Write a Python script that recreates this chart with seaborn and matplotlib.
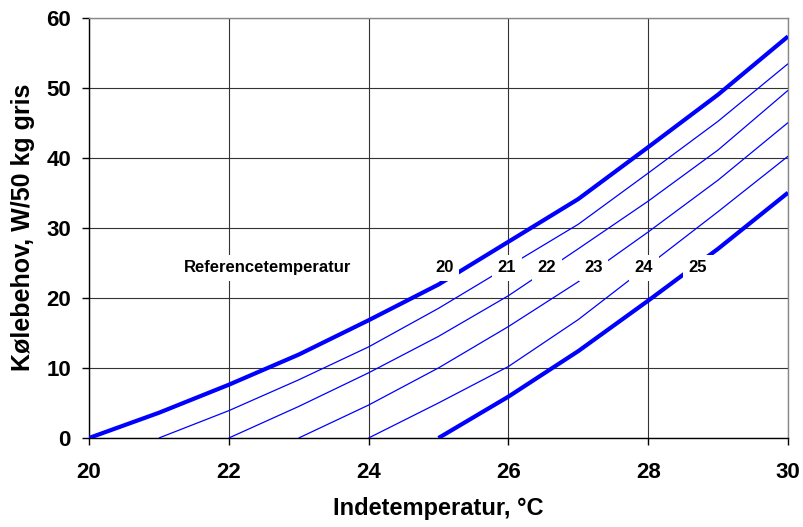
import matplotlib
matplotlib.use("Agg")
import matplotlib.pyplot as plt
import seaborn as sns
import pandas as pd

# ---- data ----
x20 = [20, 21, 22, 23, 24, 25, 26, 27, 28, 29, 30]
y20 = [0, 3.6, 7.6, 11.9, 16.8, 21.9, 28.0, 34.1, 41.5, 49.0, 57.3]
x21 = [21, 22, 23, 24, 25, 26, 27, 28, 29, 30]
y21 = [0, 3.9, 8.3, 13.0, 18.5, 24.5, 30.5, 37.8, 45.2, 53.4]
x22 = [22, 23, 24, 25, 26, 27, 28, 29, 30]
y22 = [0, 4.5, 9.3, 14.5, 20.3, 27.0, 33.8, 41.1, 49.6]
x23 = [23, 24, 25, 26, 27, 28, 29, 30]
y23 = [0, 4.7, 10.0, 15.9, 22.3, 29.4, 36.8, 45.0]
x24 = [24, 25, 26, 27, 28, 29, 30]
y24 = [0, 5.0, 10.2, 16.9, 24.6, 32.3, 40.2]
x25 = [25, 26, 27, 28, 29, 30]
y25 = [0, 5.9, 12.4, 19.6, 27.0, 35.0]

curve_names = ["20", "21", "22", "23", "24", "25"]
label_x = [25.09, 25.98, 26.55, 27.22, 27.94, 28.71]
label_y = 24.3
ref_text = "Referencetemperatur"
ref_x = 22.56

xticks = [20, 22, 24, 26, 28, 30]
yticks = [0, 10, 20, 30, 40, 50, 60]
xlabel = "Indetemperatur, °C"
ylabel = "Kølebehov, W/50 kg gris"

series = [(x20, y20), (x21, y21), (x22, y22), (x23, y23), (x24, y24), (x25, y25)]

sns.set_style("white")
plt.rcParams['font.family'] = ['Liberation Sans', 'DejaVu Sans']
plt.rcParams['text.color'] = 'black'
plt.rcParams['axes.labelcolor'] = 'black'
plt.rcParams['xtick.color'] = 'black'
plt.rcParams['ytick.color'] = 'black'

fig = plt.figure(figsize=(8.04, 5.27), dpi=100)
ax = fig.add_axes([89 / 804, 1 - 438 / 527, (788 - 89) / 804, (438 - 17.5) / 527])

for name, (xs, ys) in zip(curve_names, series):
    df = pd.DataFrame({"x": xs, "y": ys})
    thick = name in ("20", "25")
    sns.lineplot(data=df, x="x", y="y", ax=ax, color="#0000FF",
                 linewidth=3.0 if thick else 0.9, zorder=3,
                 solid_capstyle="butt")

for name, lx in zip(curve_names, label_x):
    ax.text(lx, label_y, name, ha="center", va="center", fontsize=12,
            fontweight="bold", color="black", zorder=5,
            bbox=dict(facecolor="white", edgecolor="none", pad=4))
ax.text(ref_x, label_y, ref_text, ha="center", va="center", fontsize=12,
        fontweight="bold", color="black", zorder=5,
        bbox=dict(facecolor="white", edgecolor="none", pad=4))

ax.set_xlim(20, 30)
ax.set_ylim(0, 60)
ax.set_xticks(xticks)
ax.set_yticks(yticks)
ax.set_xticklabels([str(t) for t in xticks], fontsize=16, fontweight="bold", color="black")
ax.set_yticklabels([str(t) for t in yticks], fontsize=16, fontweight="bold", color="black")
ax.tick_params(axis="both", direction="out", length=5, width=1, color="black",
               labelcolor="black", left=True, bottom=True)
ax.tick_params(axis="x", pad=12)
ax.tick_params(axis="y", pad=8)

ax.grid(True, color="#333333", linewidth=0.8, zorder=1)
ax.set_axisbelow(True)

ax.spines["left"].set_color("black")
ax.spines["bottom"].set_color("black")
ax.spines["top"].set_color("#888888")
ax.spines["right"].set_color("#888888")
for s in ax.spines.values():
    s.set_linewidth(1.0)

ax.set_xlabel(xlabel, fontsize=17, fontweight="bold", labelpad=10, color="black")
ax.set_ylabel(ylabel, fontsize=18, fontweight="bold", labelpad=8, color="black")

fig.savefig("out.png", dpi=100, facecolor="white")
